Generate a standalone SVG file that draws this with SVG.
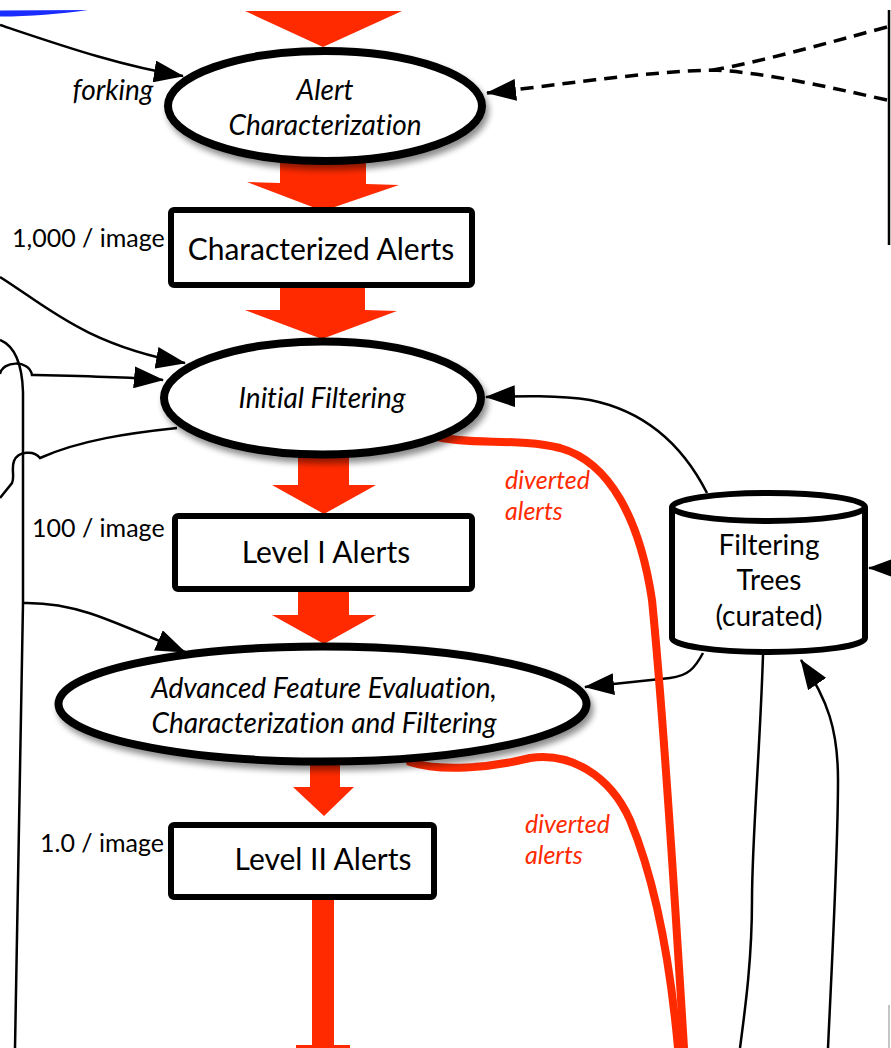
<svg xmlns="http://www.w3.org/2000/svg" width="891" height="1048" viewBox="0 0 891 1048">
  <style>
    text { font-variant-ligatures: none; }
    .proc { fill: #ffffff; stroke: #000000; stroke-width: 8; }
    .box { fill: #ffffff; stroke: #000000; stroke-width: 6; }
    .flow { fill: #ff2a00; stroke: none; }
    .divert { fill: none; stroke: #ff2a00; stroke-width: 8; stroke-linecap: round; }
    .link { fill: none; stroke: #000000; stroke-width: 2.5; }
    .dash { fill: none; stroke: #000000; stroke-width: 3.5; stroke-dasharray: 13 8; }
    .lbl { font-family: Lato, "Noto Sans", sans-serif; font-size: 30px; fill: #000000; text-anchor: middle; }
    .cyl { font-family: Lato, "Noto Sans", sans-serif; font-size: 28px; fill: #000000; text-anchor: middle; }
    .ital { font-family: Lato, "Noto Sans", sans-serif; font-size: 28px; font-style: italic; fill: #000000; text-anchor: middle; }
    .rate { font-family: Lato, "Noto Sans", sans-serif; font-size: 25px; fill: #000000; }
    .red { font-family: Lato, "Noto Sans", sans-serif; font-size: 25px; font-style: italic; fill: #ff2a00; }
  </style>
  <defs>
    <marker id="arrow" markerUnits="userSpaceOnUse" markerWidth="30" markerHeight="22" viewBox="0 0 30 22" refX="29" refY="11" orient="auto">
      <path d="M0,0 L30,11 L0,22 Z" fill="#000000"/>
    </marker>
    <filter id="shadow" x="-10%" y="-10%" width="125%" height="140%">
      <feGaussianBlur in="SourceAlpha" stdDeviation="3"/>
      <feOffset dx="3" dy="5" result="blur"/>
      <feComponentTransfer><feFuncA type="linear" slope="0.45"/></feComponentTransfer>
      <feMerge><feMergeNode/><feMergeNode in="SourceGraphic"/></feMerge>
    </filter>
  </defs>

  <!-- main flow: block arrows between stages -->
  <g id="flow">
    <path class="flow" d="M245,11 L402,11 L323,47 Z"/>
    <path class="flow" d="M280,150 L366,150 L366,184 L399,185 L323,211 L247,182 L280,183 Z"/>
    <path class="flow" d="M280,286 L365,286 L365,310 L397,311 L322,339 L245,310 L280,310 Z"/>
    <path class="flow" d="M298,450 L349,450 L349,485 L376,485 L324,514 L272,485 L298,485 Z"/>
    <path class="flow" d="M298,590 L349,590 L349,615 L376,615 L324,644 L272,615 L298,615 Z"/>
    <path class="flow" d="M310,760 L340,760 L340,787 L354,787 L324,816 L293,787 L310,787 Z"/>
    <path class="flow" d="M312,898 L334,898 L334,1045 L350,1045 L350,1048 L296,1048 L296,1045 L312,1045 Z"/>
  </g>

  <!-- connectors -->
  <g id="connectors">
    <!-- upstream node edge (top-left) -->
    <path d="M0,10.5 L88,10 C60,14 30,16.5 0,16.5 Z" fill="#1a2cff"/>
    <path class="link" d="M0,25 C60,45 120,66 183,76" marker-end="url(#arrow)"/>
    <path class="link" d="M0,277 C45,305 85,345 185,363" marker-end="url(#arrow)"/>
    <path class="link" d="M0,374 C2,361 29,359 32,375 C80,376 130,377 163,380" marker-end="url(#arrow)"/>
    <path class="link" d="M177,428 C130,433 80,440 40,458 C34,450 18,451 14,461 C11,469 15,477 12,483 L0,498"/>
    <path class="link" d="M0,340 C12,345 22,360 23,392 L23,603 L15,1048"/>
    <path class="link" d="M23,603 C70,602 100,615 185,652" marker-end="url(#arrow)"/>

    <!-- dashed feedback arriving from the right -->
    <path class="dash" d="M887,27 C820,45 760,62 713,70"/>
    <path class="dash" d="M887,100 C820,85 760,72 713,70 C640,72 560,85 487,93" marker-end="url(#arrow)"/>
    <path d="M889,10 L889,245" stroke="#000000" stroke-width="2.5"/>
    <path d="M889,1005 L889,1048" stroke="#b0b0b0" stroke-width="1.5"/>

    <!-- Filtering Trees links -->
    <path class="link" d="M707,493 C680,440 640,410 590,400 C560,395 520,396 486,397" marker-end="url(#arrow)"/>
    <path class="link" d="M703,653 C695,668 688,676 670,678 C640,681 615,684 585,687" marker-end="url(#arrow)"/>
    <path class="link" d="M763,655 C760,750 752,840 752,900 C752,960 745,1010 740,1048"/>
    <path class="link" d="M828,1048 C833,940 838,850 838,780 C838,730 828,700 801,660" marker-end="url(#arrow)"/>
    <path class="link" d="M900,568 L869,568" marker-end="url(#arrow)"/>

    <!-- diverted alerts -->
    <path class="divert" d="M438,437 C470,445 520,438 560,448 C610,462 640,520 652,600 C662,700 675,900 684,1048"/>
    <path class="divert" d="M410,762 C440,772 490,768 530,758 C570,752 610,775 630,820 C655,880 670,960 678,1048"/>
  </g>

  <g id="alert-characterization" filter="url(#shadow)">
    <ellipse class="proc" cx="325" cy="106" rx="157" ry="55"/>
  </g>
  <g id="alert-characterization-text">
    <text class="ital" x="325" y="100">Alert</text>
    <text class="ital" x="325" y="135">Characterization</text>
  </g>

  <g id="characterized-alerts">
    <rect class="box" x="171" y="210" width="301" height="75" rx="3"/>
    <text class="lbl" x="321" y="260">Characterized Alerts</text>
  </g>

  <g id="initial-filtering" filter="url(#shadow)">
    <ellipse class="proc" cx="322.5" cy="398" rx="158.5" ry="56.5"/>
  </g>
  <g id="initial-filtering-text">
    <text class="ital" x="322" y="408">Initial Filtering</text>
  </g>

  <g id="level-1-alerts">
    <rect class="box" x="175" y="516" width="297" height="73" rx="3"/>
    <text class="lbl" x="326" y="563">Level I Alerts</text>
  </g>

  <g id="advanced-evaluation" filter="url(#shadow)">
    <ellipse class="proc" cx="322.5" cy="704" rx="264" ry="57.5"/>
  </g>
  <g id="advanced-evaluation-text">
    <text class="ital" x="324" y="698">Advanced Feature Evaluation,</text>
    <text class="ital" x="324" y="733">Characterization and Filtering</text>
  </g>

  <g id="level-2-alerts">
    <rect class="box" x="171" y="825" width="263" height="72" rx="3"/>
    <text class="lbl" x="323" y="870">Level II Alerts</text>
  </g>

  <g id="filtering-trees">
    <path class="box" d="M672,507 L672,638 A96.5,14 0 0 0 865,638 L865,507"/>
    <ellipse class="box" cx="768.5" cy="507" rx="96.5" ry="14"/>
    <text class="cyl" x="769" y="555">Filtering</text>
    <text class="cyl" x="769" y="590">Trees</text>
    <text class="cyl" x="769" y="626">(curated)</text>
  </g>

  <g id="labels">
    <text class="ital" x="113" y="100" font-size="24">forking</text>
    <text class="rate" x="12" y="247">1,000 / image</text>
    <text class="rate" x="32" y="537">100 / image</text>
    <text class="rate" x="40" y="852">1.0 / image</text>
    <text class="red" x="505" y="489">diverted</text>
    <text class="red" x="505" y="520">alerts</text>
    <text class="red" x="525" y="833">diverted</text>
    <text class="red" x="525" y="864">alerts</text>
  </g>
</svg>
